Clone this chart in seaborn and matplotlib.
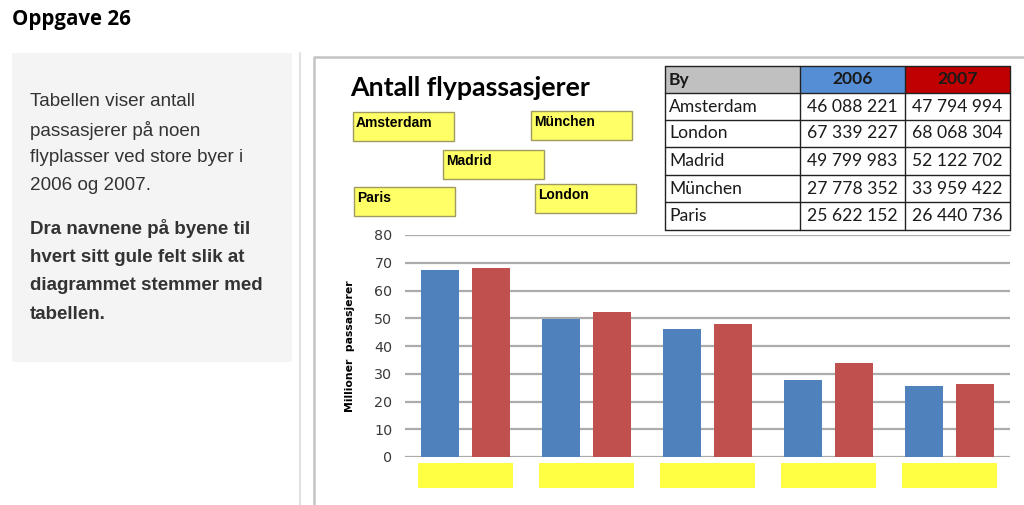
import matplotlib
matplotlib.use("Agg")
import matplotlib.pyplot as plt
import matplotlib.patches as mpatches
import matplotlib.transforms as mtransforms
import seaborn as sns
import pandas as pd

# ---------------- data ----------------
cities = ["Amsterdam", "London", "Madrid", "München", "Paris"]
passengers_2006 = [46088221, 67339227, 49799983, 27778352, 25622152]
passengers_2007 = [47794994, 68068304, 52122702, 33959422, 26440736]
years = ["2006", "2007"]
chart_order = ["London", "Madrid", "Amsterdam", "München", "Paris"]
y_ticks = [0, 10, 20, 30, 40, 50, 60, 70, 80]
drag_labels = ["Amsterdam", "München", "Madrid", "Paris", "London"]

title_text = "Oppgave 26"
intro_lines = ["Tabellen viser antall", "passasjerer på noen",
               "flyplasser ved store byer i", "2006 og 2007."]
task_lines = ["Dra navnene på byene til", "hvert sitt gule felt slik at",
              "diagrammet stemmer med", "tabellen."]
chart_title = "Antall flypassasjerer"
y_label = "Millioner  passasjerer"

# ---------------- styling ----------------
BLUE = "#4f81bd"
RED = "#c0504d"
YELLOW = "#ffff66"
W, H = 1024, 505

sns.set_theme(style="white")
plt.rcParams["font.family"] = ["DejaVu Sans"]

fig = plt.figure(figsize=(W / 100, H / 100), dpi=100)
fig.patch.set_facecolor("white")


def fx(x):
    return x / W


def fy(y):
    return 1 - y / H


def rect(x0, y0, x1, y1, **kw):
    r = mpatches.Rectangle((fx(x0), fy(y1)), fx(x1) - fx(x0), fy(y0) - fy(y1),
                           transform=fig.transFigure, **kw)
    fig.add_artist(r)
    return r


# Page header
fig.text(fx(12), fy(20), title_text, family="Open Sans", weight="bold",
         fontsize=14.8, va="center", ha="left", color="black")

# Grey instruction box
rect(12, 53, 292, 362, facecolor="#f4f4f4", edgecolor="none")
for i, line in enumerate(intro_lines):
    fig.text(fx(30), fy(102 + i * 28), line, family="Liberation Sans",
             fontsize=13.6, color="#333333", va="center", ha="left")
for i, line in enumerate(task_lines):
    fig.text(fx(30), fy(229 + i * 28.5), line, family="Liberation Sans",
             weight="bold", fontsize=13.5, color="#333333", va="center", ha="left")

# Divider and chart frame
fig.add_artist(plt.Line2D([fx(300), fx(300)], [fy(53), fy(505)],
                          transform=fig.transFigure, color="#e2e2e2", lw=1.5))
fig.add_artist(plt.Line2D([fx(314), fx(314), fx(1024)], [fy(505), fy(57), fy(57)],
                          transform=fig.transFigure, color="#c4c4c4", lw=1.8))

# Chart title
fig.text(fx(350), fy(88), chart_title, family="Lato", weight="bold",
         fontsize=19.3, va="center", ha="left", color="black")

# Draggable label boxes
box_pos = [(353, 112), (531, 111), (443, 150), (354, 187), (535, 184)]
for name, (bx, by) in zip(drag_labels, box_pos):
    rect(bx, by, bx + 101, by + 29, facecolor=YELLOW, edgecolor="#a09a60", lw=1)
    fig.text(fx(bx + 3), fy(by + 11), name, family="Liberation Sans",
             weight="bold", fontsize=10, va="center", ha="left", color="black")

# Data table
col_x = [665, 800, 905, 1010]
row_y = [66, 93, 120, 147, 175, 202, 230]
rect(col_x[0], row_y[0], col_x[1], row_y[1], facecolor="#c0c0c0", edgecolor="none")
rect(col_x[1], row_y[0], col_x[2], row_y[1], facecolor="#558ed5", edgecolor="none")
rect(col_x[2], row_y[0], col_x[3], row_y[1], facecolor="#c00000", edgecolor="none")
for x in col_x:
    fig.add_artist(plt.Line2D([fx(x), fx(x)], [fy(row_y[0]), fy(row_y[-1])],
                              transform=fig.transFigure, color="#222222", lw=1))
for y in row_y:
    fig.add_artist(plt.Line2D([fx(col_x[0]), fx(col_x[-1])], [fy(y), fy(y)],
                              transform=fig.transFigure, color="#222222", lw=1))


def fmt(v):
    return f"{v:,}".replace(",", " ")


tfont = dict(family="Lato", fontsize=12.6, va="center", color="#1a1a1a")
fig.text(fx(col_x[0] + 4), fy((row_y[0] + row_y[1]) / 2), "By", weight="bold",
         ha="left", **tfont)
for j, yr in enumerate(years):
    fig.text(fx((col_x[j + 1] + col_x[j + 2]) / 2), fy((row_y[0] + row_y[1]) / 2),
             yr, weight="bold", ha="center", **tfont)
for i, city in enumerate(cities):
    yc = fy((row_y[i + 1] + row_y[i + 2]) / 2)
    fig.text(fx(col_x[0] + 4), yc, city, ha="left", **tfont)
    fig.text(fx((col_x[1] + col_x[2]) / 2), yc, fmt(passengers_2006[i]), ha="center", **tfont)
    fig.text(fx((col_x[2] + col_x[3]) / 2), yc, fmt(passengers_2007[i]), ha="center", **tfont)

# ---------------- bar chart ----------------
df = pd.DataFrame({
    "By": cities * 2,
    "År": [years[0]] * len(cities) + [years[1]] * len(cities),
    "Mill": [v / 1e6 for v in passengers_2006] + [v / 1e6 for v in passengers_2007],
})

ax = fig.add_axes([fx(405), fy(457), (1010 - 405) / W, (457 - 235) / H])
sns.barplot(data=df, x="By", y="Mill", hue="År", order=chart_order,
            hue_order=years, palette=[BLUE, RED], saturation=1, width=0.83,
            gap=0.24, legend=False, ax=ax, edgecolor="none", zorder=3)
ax.set_ylim(0, 80)
ax.set_xlim(-0.5, len(chart_order) - 0.5)
ax.set_yticks(y_ticks)
ax.set_yticklabels([str(t) for t in y_ticks], fontsize=10.3, color="#3a3a3a")
ax.tick_params(axis="y", length=0, pad=9)
ax.set_xticks([])
ax.set_xlabel("")
ax.set_ylabel("")
for s in ax.spines.values():
    s.set_visible(False)
ax.yaxis.grid(True, color="#ababab", lw=1.6)
ax.set_axisbelow(True)
ax.set_facecolor("none")

# empty yellow drop targets below each category
trans = mtransforms.blended_transform_factory(ax.transData, ax.transAxes)
for i in range(len(chart_order)):
    ax.add_patch(mpatches.Rectangle((i - 0.39, -0.14), 0.78, 0.112, transform=trans,
                                    facecolor="#ffff44", edgecolor="none", clip_on=False))

fig.text(fx(350), fy(346), y_label, rotation=90, family="DejaVu Sans",
         weight="bold", fontsize=7.8, va="center", ha="center", color="black")

fig.savefig("out.png", dpi=100)
